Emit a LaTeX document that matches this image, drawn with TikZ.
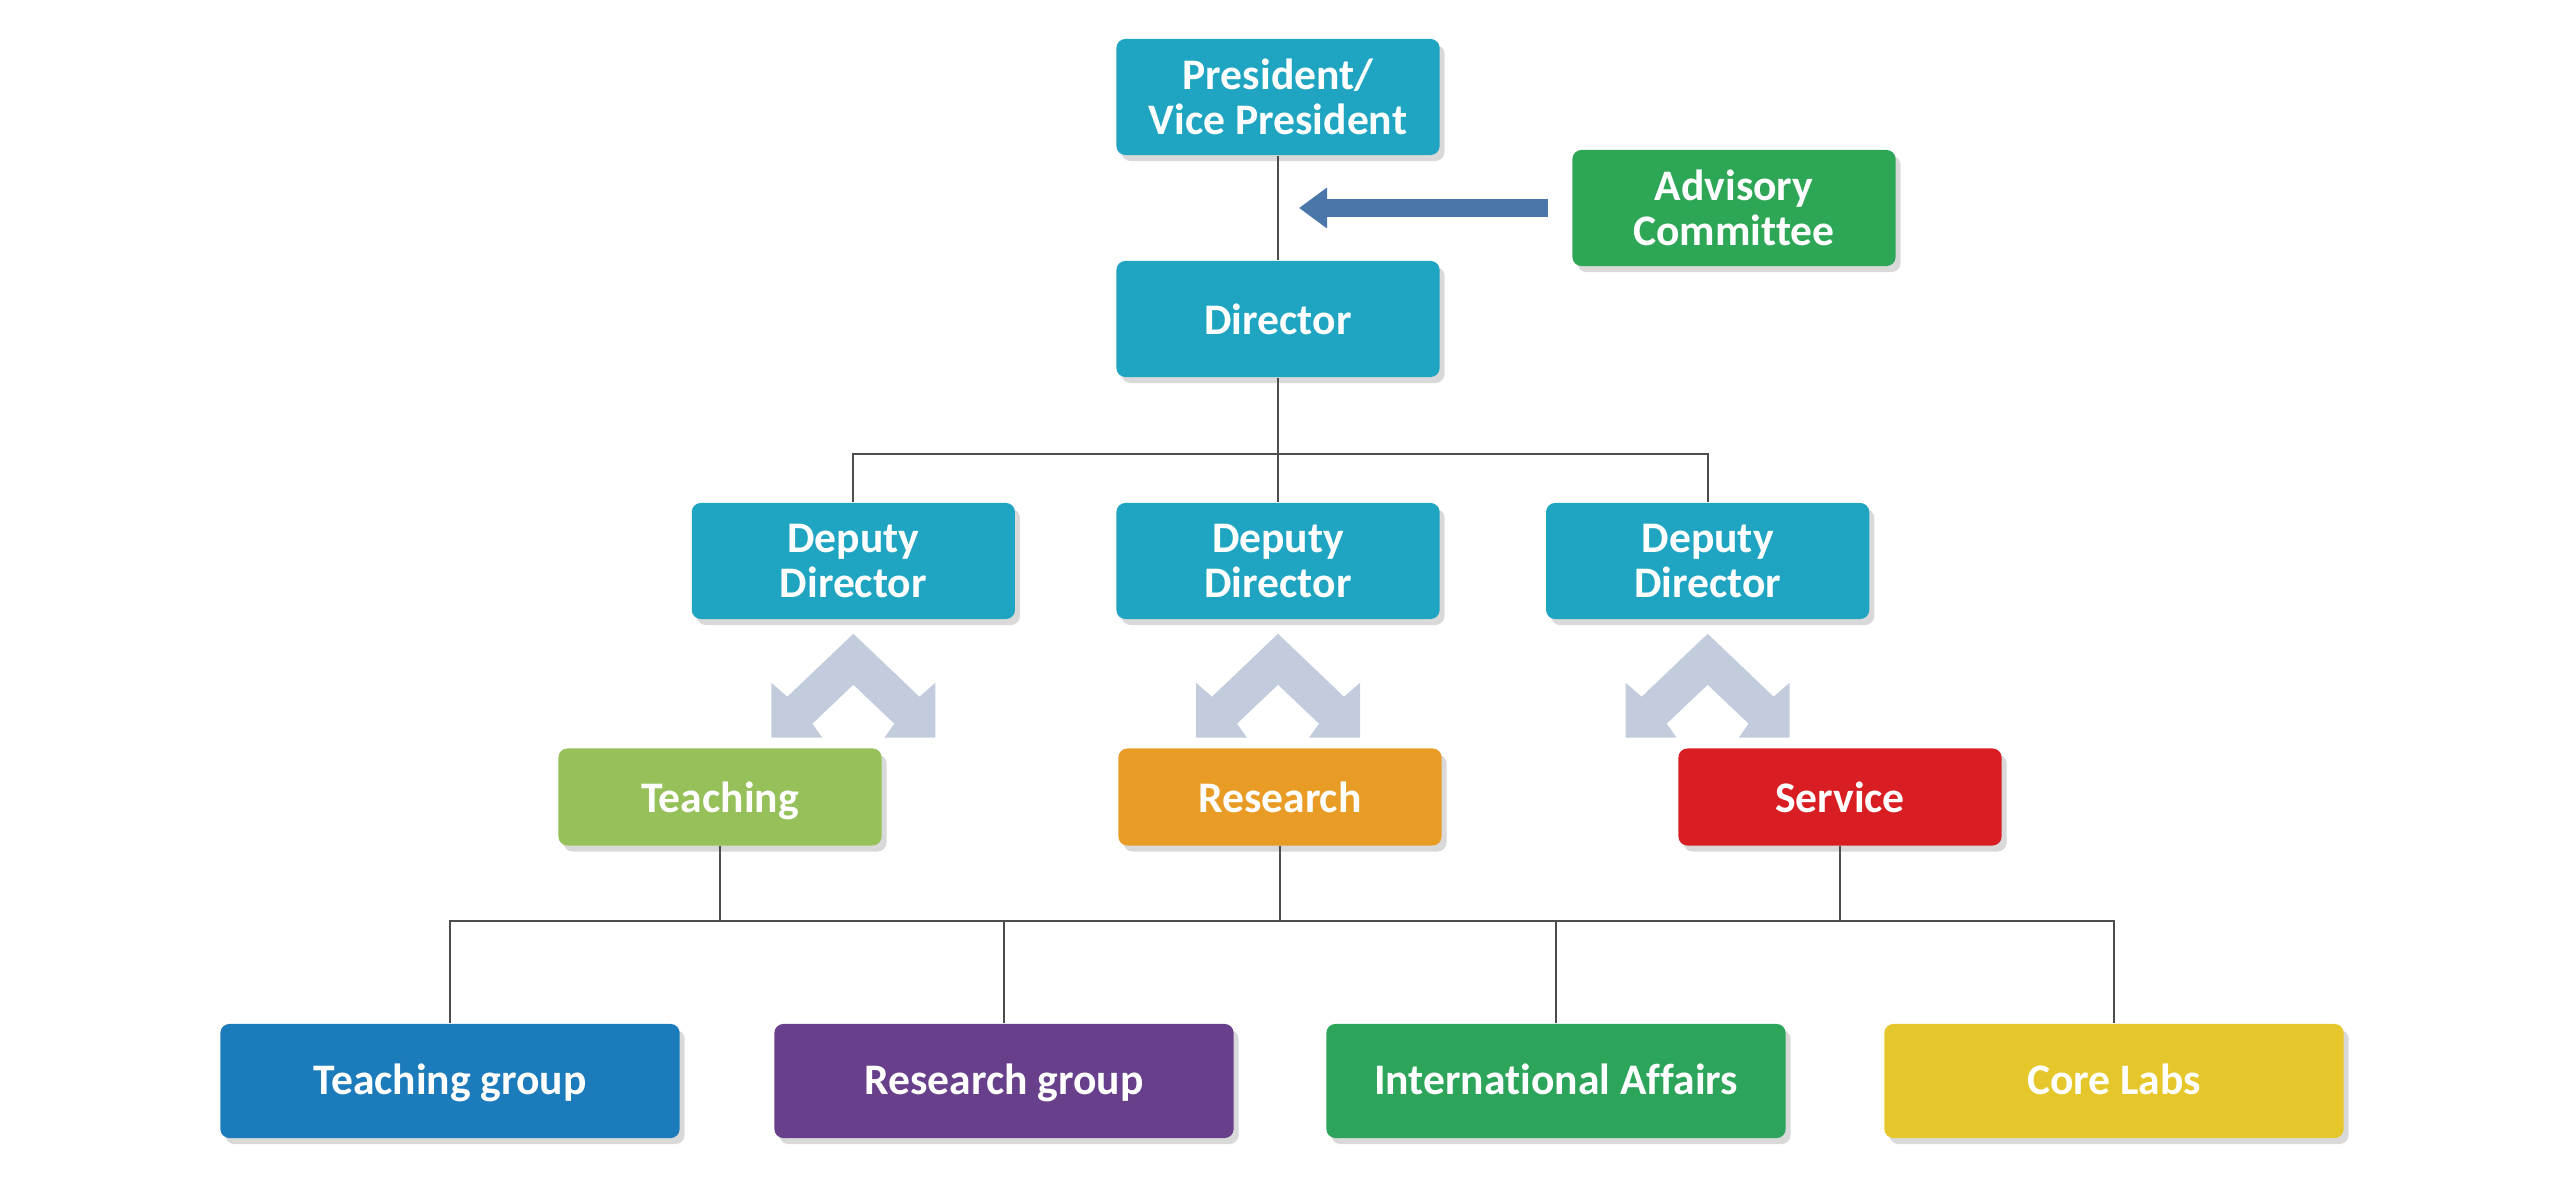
\documentclass[tikz,border=0pt]{standalone}
\usepackage{fontspec}
\setmainfont{Carlito}[Ligatures=NoCommon]
\usepackage{tikz}
\usetikzlibrary{positioning,shadows,arrows.meta}
\definecolor{headcol}{RGB}{31,165,194}
\definecolor{advcol}{RGB}{45,166,86}
\definecolor{arrowcol}{RGB}{74,118,170}
\definecolor{chevcol}{RGB}{194,204,221}
\definecolor{teachcol}{RGB}{149,192,90}
\definecolor{rescol}{RGB}{233,156,37}
\definecolor{servcol}{RGB}{216,30,34}
\definecolor{tgcol}{RGB}{28,123,186}
\definecolor{rgcol}{RGB}{104,63,139}
\definecolor{iacol}{RGB}{44,165,90}
\definecolor{clcol}{RGB}{230,199,43}
\definecolor{linecol}{RGB}{77,77,77}

\tikzset{
    twoway/.pic={
        \fill[chevcol] (0,0) -- (-66,63) -- (-82,49) -- (-82,104) -- (-31,104) -- (-41,90)
            -- (0,51) -- (41,90) -- (31,104) -- (82,104) -- (82,49) -- (66,63) -- cycle;
    }
}

\begin{document}
\begin{tikzpicture}[
    x=0.01cm, y=-0.01cm,
    node distance=1.0cm,
    box/.style={rectangle, rounded corners=0.09cm, minimum width=3.23cm, minimum height=1.16cm,
        align=center, text=white, font=\fontsize{12.4}{12.6}\selectfont\bfseries,
        drop shadow={shadow xshift=0.05cm, shadow yshift=-0.06cm, opacity=0.15, fill=black}},
    unit/.style={box, minimum height=0.97cm, text height=1.8ex, text depth=0pt},
    group/.style={box, minimum width=4.59cm, minimum height=1.14cm, text height=1.6ex, text depth=0pt},
    link/.style={draw=linecol, line width=0.6pt},
    bigarrow/.style={draw=arrowcol, line width=0.18cm, -{Triangle[length=0.28cm, width=0.39cm]}, shorten <=0.24cm}
]
\useasboundingbox (0,0) rectangle (2560,1204);

% top
\node[box, fill=headcol] (pres) at (1278,97) {President/\\Vice President};
\node[box, fill=headcol] (dir) at (1278,319) {Director};
\node[box, fill=advcol] (adv) at (1734,208) {Advisory\\Committee};
\coordinate (advtip) at (1299,208);

% deputies
\node[box, fill=headcol] (dep2) at (1278,561) {Deputy\\Director};
\node[box, fill=headcol, left=of dep2] (dep1) {Deputy\\Director};
\node[box, fill=headcol, right=1.05cm of dep2] (dep3) {Deputy\\Director};
\coordinate (bus1) at (1278,454);

% missions
\node[unit, fill=teachcol] (teach) at (720,797) {Teaching};
\node[unit, fill=rescol] (res) at (1280,797) {Research};
\node[unit, fill=servcol] (serv) at (1840,797) {Service};
\coordinate (bus2) at (1280,921);

% groups
\node[group, fill=tgcol] (tg) at (450,1081) {Teaching group};
\node[group, fill=rgcol] (rg) at (1004,1081) {Research group};
\node[group, fill=iacol] (ia) at (1556,1081) {International Affairs};
\node[group, fill=clcol] (cl) at (2114,1081) {Core Labs};

\pic at ([yshift=-0.14cm]dep1.south) {twoway};
\pic at ([yshift=-0.14cm]dep2.south) {twoway};
\pic at ([yshift=-0.14cm]dep3.south) {twoway};

\draw[link] (pres) -- (dir);
\draw[bigarrow] (adv.west) -- (advtip);
\draw[link] (dir) -- (bus1);
\draw[link] (bus1) -| (dep1);
\draw[link] (bus1) -| (dep3);
\draw[link] (bus1) -- (dep2);

\draw[link] (teach) -- (teach |- bus2);
\draw[link] (res) -- (bus2);
\draw[link] (serv) -- (serv |- bus2);
\draw[link] (tg) |- (bus2) -| (cl);
\draw[link] (rg) -- (rg |- bus2);
\draw[link] (ia) -- (ia |- bus2);

\end{tikzpicture}
\end{document}
